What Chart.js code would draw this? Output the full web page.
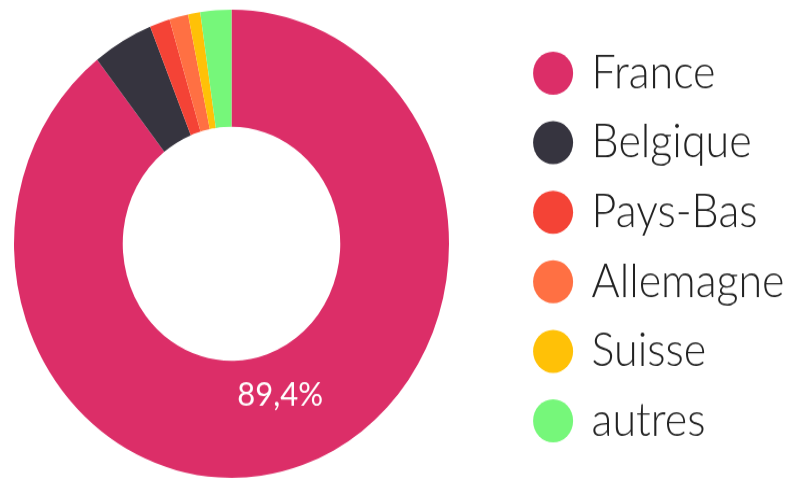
<!DOCTYPE html>
<html>
<head>
<meta charset="utf-8">
<script src="https://cdn.jsdelivr.net/npm/chart.js@4"></script>
<style>
  html, body { margin: 0; padding: 0; background: #fff; }
</style>
</head>
<body>
<!-- the reference is stretched vertically: draw at 795x446, show at 795x480 -->
<canvas id="chart" width="795" height="446" style="display:block;width:795px;height:480px"></canvas>
<script>
// -- Data -----------------------------------------------------------------

const countries = ['France', 'Belgique', 'Pays-Bas', 'Allemagne', 'Suisse', 'autres'];
const shares = [89.4, 4.5, 1.5, 1.4, 0.9, 2.3];
const colors = ['#dc2e68', '#36343f', '#f44336', '#ff7043', '#ffc107', '#76f77a'];
const shownLabels = ['89,4%', '', '', '', '', ''];

const FONT = 'Lato';
const LEGEND_WIDTH = 332; // keeps the doughnut's area on the left
const LEGEND_SHIFT_X = 51.5; // gap between the doughnut and the legend items
const LEGEND_SHIFT_Y = 3;

// -- Plugins --------------------------------------------------------------

// Fixed legend box, drawn a bit away from the chart area.
const legendPlacement = {
  id: 'legendPlacement',
  beforeInit(chart) {
    const fit = chart.legend.fit;
    chart.legend.fit = function () {
      fit.call(this);
      this.width = LEGEND_WIDTH;
    };
  },
  afterLayout(chart) {
    const legend = chart.legend;
    legend.left += LEGEND_SHIFT_X;
    legend.right += LEGEND_SHIFT_X;
    legend.top += LEGEND_SHIFT_Y;
    legend.bottom += LEGEND_SHIFT_Y;
  },
};

// Percentage written inside a slice.
const sliceLabels = {
  id: 'sliceLabels',
  afterDatasetsDraw(chart) {
    const { ctx } = chart;
    const meta = chart.getDatasetMeta(0);
    meta.data.forEach((arc, i) => {
      const text = shownLabels[i];
      if (!text) return;
      const { x, y, startAngle, endAngle, innerRadius, outerRadius } = arc.getProps(
        ['x', 'y', 'startAngle', 'endAngle', 'innerRadius', 'outerRadius'], true);
      const mid = (startAngle + endAngle) / 2;
      const r = innerRadius + 0.37 * (outerRadius - innerRadius);
      ctx.save();
      ctx.fillStyle = '#ffffff';
      ctx.font = '400 31px ' + FONT;
      ctx.textAlign = 'center';
      ctx.textBaseline = 'middle';
      ctx.fillText(text, x + Math.cos(mid) * r, y + Math.sin(mid) * r);
      ctx.restore();
    });
  },
};

// -- Chart ----------------------------------------------------------------

new Chart(document.getElementById('chart'), {
  type: 'doughnut',
  data: {
    labels: countries,
    datasets: [
      {
        data: shares,
        backgroundColor: colors,
        borderColor: colors,
        borderWidth: 0,
        hoverOffset: 0,
      },
    ],
  },
  options: {
    responsive: false,
    devicePixelRatio: 1,
    animation: false,
    cutout: '50%',
    layout: {
      padding: { left: 0, top: 9, bottom: 2, right: 0 },
    },
    plugins: {
      tooltip: { enabled: false },
      legend: {
        position: 'right',
        align: 'center',
        labels: {
          usePointStyle: true,
          pointStyle: 'circle',
          boxWidth: 34,
          boxHeight: 28.3,
          padding: 21.6,
          color: '#222',
          font: { family: FONT, size: 43, weight: '300' },
        },
      },
    },
  },
  plugins: [legendPlacement, sliceLabels],
});
</script>
</body>
</html>
